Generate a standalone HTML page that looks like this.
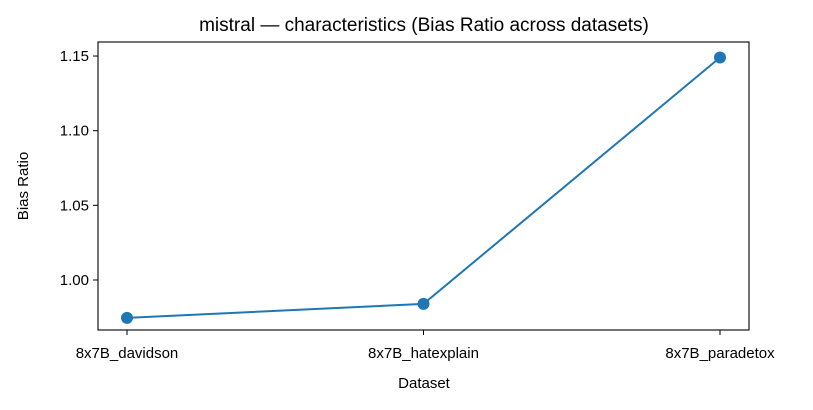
<!DOCTYPE html>
<html><head><meta charset="utf-8"><style>
body{margin:0;background:#fff;}
svg text{font-family:"Liberation Sans","DejaVu Sans",sans-serif;fill:#000;}
</style></head><body>
<svg width="813" height="405" xmlns="http://www.w3.org/2000/svg">
<text x="424" y="31" font-size="19" text-anchor="middle">mistral — characteristics (Bias Ratio across datasets)</text>
<g id="axes"></g>
<rect x="98" y="42" width="651" height="288" fill="none" stroke="#000" stroke-width="1.1"/>
<text x="424" y="388" font-size="15" text-anchor="middle">Dataset</text>
<text x="28" y="186" font-size="15" text-anchor="middle" transform="rotate(-90 28 186)">Bias Ratio</text>
</svg>
<script>
const categories=["8x7B_davidson","8x7B_hatexplain","8x7B_paradetox"];
const values=[0.9746,0.984,1.149];
const yTicks=[1.00,1.05,1.10,1.15];
const yTickLabels=["1.00","1.05","1.10","1.15"];
const NS="http://www.w3.org/2000/svg";
const g=document.getElementById('axes');
const yMin=0.9665,yMax=1.1594,plotTop=42,plotBot=330;
const y=v=>plotBot-(v-yMin)/(yMax-yMin)*(plotBot-plotTop);
const x=i=>127+i*(720-127)/(categories.length-1);
function mk(t,a){const e=document.createElementNS(NS,t);for(const k in a)e.setAttribute(k,a[k]);g.appendChild(e);return e;}
yTicks.forEach((v,i)=>{
 const l=mk('line',{x1:93,x2:98,y1:y(v),y2:y(v),stroke:'#000'});
 
 
 const t=mk('text',{x:89,y:y(v)+5,'font-size':15,'text-anchor':'end'});
 t.textContent=yTickLabels[i];
 
 
});
categories.forEach((c,i)=>{
 const l=mk('line',{x1:x(i),x2:x(i),y1:330,y2:335,stroke:'#000'});
 
 
 const t=mk('text',{x:x(i),y:358,'font-size':15,'text-anchor':'middle'});
 t.textContent=c;
 
 
});
const pl=mk('polyline',{points:values.map((v,i)=>x(i)+','+y(v)).join(' '),fill:'none',stroke:'#1f77b4','stroke-width':2});


values.forEach((v,i)=>{
 const c=mk('circle',{cx:x(i),cy:y(v),r:6,fill:'#1f77b4'});
 
 
});
</script>
</body></html>
